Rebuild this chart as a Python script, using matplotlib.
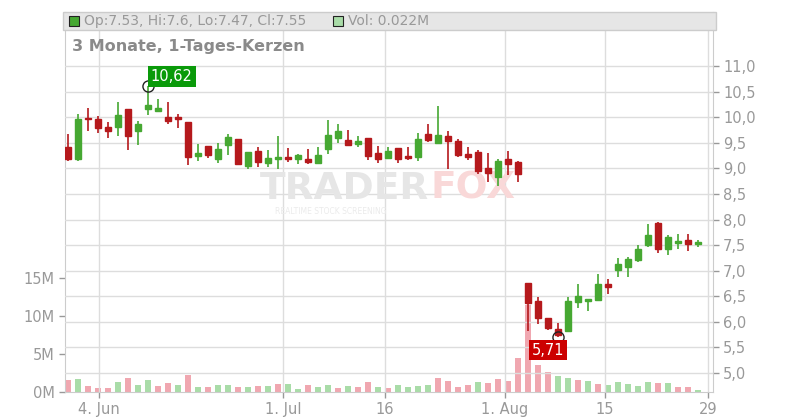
import matplotlib
matplotlib.use("Agg")
import matplotlib.pyplot as plt
from matplotlib.patches import Rectangle

opens  = [9.41,9.19,9.99,9.97,9.82,9.82,10.17,9.74,10.17,10.12,10.01,10.01,9.90,9.24,9.44,9.18,9.45,9.58,9.05,9.34,9.11,9.19,9.22,9.18,9.18,9.11,9.38,9.60,9.56,9.47,9.60,9.30,9.20,9.40,9.24,9.22,9.68,9.49,9.64,9.54,9.28,9.32,9.00,8.84,9.18,9.12,
          6.77,6.41,6.08,5.87,5.83,6.38,6.41,6.42,6.75,7.01,7.07,7.22,7.50,7.94,7.43,7.54,7.61,7.53]
closes = [9.18,9.97,9.96,9.80,9.74,10.05,9.64,9.87,10.25,10.19,9.92,9.96,9.22,9.30,9.27,9.38,9.61,9.09,9.32,9.13,9.20,9.20,9.18,9.26,9.13,9.26,9.66,9.74,9.46,9.53,9.25,9.18,9.34,9.18,9.20,9.58,9.56,9.66,9.53,9.26,9.23,8.95,8.91,9.14,9.09,8.90,
          6.36,6.07,5.89,5.75,6.41,6.51,6.43,6.75,6.68,7.14,7.23,7.43,7.69,7.43,7.66,7.59,7.52,7.55]
highs  = [9.67,10.07,10.18,10.03,9.91,10.30,10.17,9.93,10.62,10.35,10.30,10.07,9.90,9.48,9.44,9.49,9.68,9.58,9.32,9.41,9.37,9.64,9.40,9.29,9.38,9.41,9.95,9.86,9.76,9.64,9.60,9.44,9.41,9.40,9.41,9.70,9.86,10.22,9.74,9.57,9.41,9.36,9.30,9.18,9.34,9.15,
          6.77,6.49,6.08,5.98,6.48,6.75,6.45,6.94,6.83,7.25,7.27,7.50,7.92,7.96,7.69,7.71,7.71,7.60]
lows   = [9.14,9.15,9.74,9.69,9.60,9.64,9.36,9.46,10.05,10.12,9.87,9.80,9.07,9.15,9.20,9.11,9.26,9.07,8.99,9.02,9.03,8.99,9.13,9.09,9.09,9.11,9.28,9.49,9.44,9.41,9.16,9.11,9.20,9.11,9.16,9.15,9.51,9.49,8.99,9.22,9.16,8.89,8.73,8.66,8.87,8.73,
          5.83,5.96,5.85,5.71,5.81,6.28,6.21,6.42,6.54,6.88,6.88,7.17,7.46,7.35,7.31,7.43,7.38,7.47]
volumes = [1.62,1.76,0.81,0.54,0.54,1.35,1.89,0.95,1.62,0.81,1.22,0.95,2.3,0.68,0.68,0.95,0.95,0.68,0.68,0.81,0.81,1.08,1.08,0.41,0.95,0.68,0.95,0.54,0.81,0.68,1.35,0.68,0.54,0.95,0.68,0.81,0.95,1.89,1.49,0.68,0.95,1.35,1.22,1.76,1.49,4.46,
           11.5,3.57,2.65,2.13,1.87,1.61,1.48,1.09,0.96,1.35,1.09,0.83,1.35,1.22,1.22,0.7,0.7,0.3]
vol_up = "rgrrrgrggrrgrgrggrgrgrggrggrgrrgrggggrrrrgrr" + "r" + "rrrrggrgrgggggrgrrg"
tick_labels = ["4. Jun", "1. Jul", "16", "1. Aug", "15", "29"]
tick_pos = [3.1, 21.5, 31.7, 43.7, 53.7, 64.0]
price_ticks = [5.0,5.5,6.0,6.5,7.0,7.5,8.0,8.5,9.0,9.5,10.0,10.5,11.0]
vol_ticks = [0,5,10,15]

GREEN = "#46a832"; RED = "#b5191c"; VG = "#a9dca8"; VR = "#f0a7b0"; GRAY = "#999999"

fig = plt.figure(figsize=(8, 4.2), dpi=100)
axv = fig.add_axes([0.081, 0.0667, 0.81, 0.9043])
ax = axv.twinx()
n = len(opens)
axv.set_xlim(-0.3, 64.5)
axv.set_ylim(0, 50)
ax.set_ylim(4.63, 12.055)

for i, v in enumerate(volumes):
    axv.bar(i, v, width=0.65, color=VG if vol_up[i] == "g" else VR, zorder=2)

for i in range(n):
    o, c, h, l = opens[i], closes[i], highs[i], lows[i]
    col = GREEN if c >= o else RED
    ax.vlines(i, l, h, color=col, lw=1.2, zorder=3)
    ax.add_patch(Rectangle((i - 0.33, min(o, c)), 0.66, max(abs(c - o), 0.03), color=col, zorder=4))

ax.set_yticks(price_ticks)
ax.set_yticklabels([f"{t:.1f}".replace(".", ",") for t in price_ticks])
axv.set_yticks(vol_ticks)
axv.set_yticklabels([f"{t}M" for t in vol_ticks])
axv.set_xticks(tick_pos)
axv.set_xticklabels(tick_labels)
for a in (ax, axv):
    a.tick_params(colors=GRAY, labelsize=10.5, length=4, width=1)
    for s in a.spines.values():
        s.set_visible(False)
axv.spines["left"].set_visible(True); axv.spines["left"].set_color("#cccccc")
ax.spines["right"].set_visible(True); ax.spines["right"].set_color("#cccccc")
axv.spines["bottom"].set_visible(True); axv.spines["bottom"].set_color("#cccccc")
for t in price_ticks:
    ax.axhline(t, color="#dddddd", lw=1, zorder=0)
for p in tick_pos:
    ax.axvline(p, color="#dddddd", lw=1, zorder=0)
axv.set_zorder(1); ax.set_zorder(2); ax.patch.set_visible(False)

# watermark
ax.text(0.563, 0.535, "TRADER", transform=ax.transAxes, fontsize=27, fontweight="bold",
        color="#e6e6e6", zorder=1, ha="right", va="center")
ax.text(0.565, 0.535, "FOX", transform=ax.transAxes, fontsize=27, fontweight="bold",
        color="#f9d8d8", zorder=1, ha="left", va="center")
ax.text(0.41, 0.475, "REALTIME STOCK SCREENING", transform=ax.transAxes, fontsize=5.5,
        color="#ebebeb", zorder=1, ha="center", va="center")

# annotations
ax.plot(8, 10.62, "o", ms=8, mfc="none", mec="#222222", mew=1, zorder=6)
ax.text(8.3, 10.8, "10,62", color="white", fontsize=10.5, va="center", ha="left", zorder=7,
        bbox=dict(boxstyle="square,pad=0.2", fc="#0a9a0a", ec="none"))
ax.plot(49, 5.71, "o", ms=8, mfc="none", mec="#222222", mew=1, zorder=6)
ax.text(46.4, 5.45, "5,71", color="white", fontsize=10.5, va="center", ha="left", zorder=7,
        bbox=dict(boxstyle="square,pad=0.2", fc="#cc0000", ec="none"))

# header
fig.patches.append(Rectangle((63/800, 1-30/420), 653/800, 18/420, transform=fig.transFigure,
                             fc="#e6e6e6", ec="#cccccc", lw=1, zorder=10))
fig.patches.append(Rectangle((69/800, 1-26/420), 10/800, 10/420, transform=fig.transFigure,
                             fc=GREEN, ec="#222222", lw=0.8, zorder=11))
fig.text(84/800, 1-21/420, "Op:7.53, Hi:7.6, Lo:7.47, Cl:7.55", fontsize=10, color=GRAY, va="center", zorder=12)
fig.patches.append(Rectangle((333/800, 1-26/420), 10/800, 10/420, transform=fig.transFigure,
                             fc=VG, ec="#222222", lw=0.8, zorder=11))
fig.text(348/800, 1-21/420, "Vol: 0.022M", fontsize=10, color=GRAY, va="center", zorder=12)
fig.text(72/800, 1-47/420, "3 Monate, 1-Tages-Kerzen", fontsize=11.5, fontweight="bold", color="#8a8a8a", va="center")

fig.savefig("out.png", dpi=100)
